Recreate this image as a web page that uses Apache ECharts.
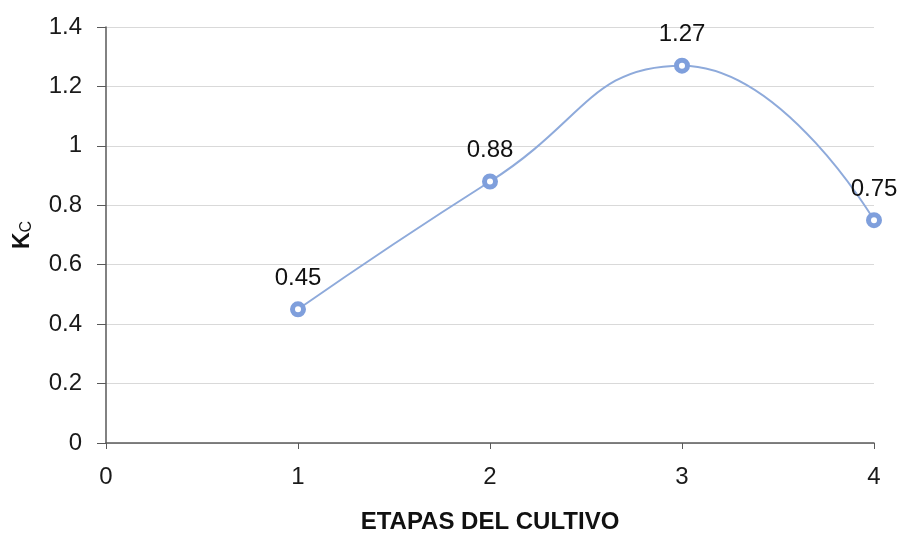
<!DOCTYPE html>
<html><head><meta charset="utf-8">
<script src="https://cdn.jsdelivr.net/npm/echarts@6/dist/echarts.min.js"></script>
<style>html,body{margin:0;padding:0;background:#fff}#c{width:900px;height:534px}</style>
</head><body><div id="c"></div>
<script>
const stages = [1, 2, 3, 4];
const kcValues = [0.45, 0.88, 1.27, 0.75];
const yTicks = [0, 0.2, 0.4, 0.6, 0.8, 1, 1.2, 1.4];
const xTicks = [0, 1, 2, 3, 4];

const chart = echarts.init(document.getElementById('c'), null, {renderer: 'canvas'});
chart.setOption({
  animation: false,
  backgroundColor: '#fff',
  grid: {left: 106, right: 26, top: 27, bottom: 91, containLabel: false, outerBoundsMode: 'none'},
  xAxis: {
    type: 'value', min: xTicks[0], max: xTicks[xTicks.length - 1], interval: 1,
    name: 'ETAPAS DEL CULTIVO', nameLocation: 'middle', nameGap: 67,
    nameTextStyle: {fontFamily: 'Liberation Sans, Arial', fontWeight: 'bold', fontSize: 24, color: '#111'},
    axisLine: {lineStyle: {color: '#595959', width: 1.5}},
    axisTick: {show: true, length: 6, lineStyle: {color: '#595959'}},
    axisLabel: {fontFamily: 'Liberation Sans, Arial', fontSize: 24, color: '#1a1a1a', margin: 22},
    splitLine: {show: false}
  },
  yAxis: {
    type: 'value', min: yTicks[0], max: yTicks[yTicks.length - 1], interval: 0.2,
    name: '{k|K}{c|C}', nameLocation: 'middle', nameGap: 71, nameRotate: 90,
    nameTextStyle: {rich: {
      k: {fontFamily: 'Liberation Sans, Arial', fontWeight: 'bold', fontSize: 23, color: '#111'},
      c: {fontFamily: 'Liberation Sans, Arial', fontSize: 16, color: '#111', verticalAlign: 'bottom', padding: [8,0,0,0]}
    }},
    axisLine: {show: true, lineStyle: {color: '#595959', width: 1.5}},
    axisTick: {show: true, length: 9, lineStyle: {color: '#595959'}},
    axisLabel: {fontFamily: 'Liberation Sans, Arial', fontSize: 24, color: '#1a1a1a', margin: 24,
      formatter: v => String(Math.round(v * 10) / 10)},
    splitLine: {show: true, lineStyle: {color: '#d9d9d9', width: 1}}
  },
  series: [{
    type: 'line',
    data: stages.map((s, i) => [s, kcValues[i]]),
    smooth: 0.5,
    symbol: 'circle', symbolSize: 11, showSymbol: true,
    lineStyle: {color: '#8eaadb', width: 2},
    itemStyle: {color: '#fff', borderColor: '#7f9fdc', borderWidth: 5},
    label: {show: true, position: 'top', distance: 11, fontFamily: 'Liberation Sans, Arial', fontSize: 24, color: '#111',
      formatter: p => p.value[1].toFixed(2)}
  }]
});
</script></body></html>
